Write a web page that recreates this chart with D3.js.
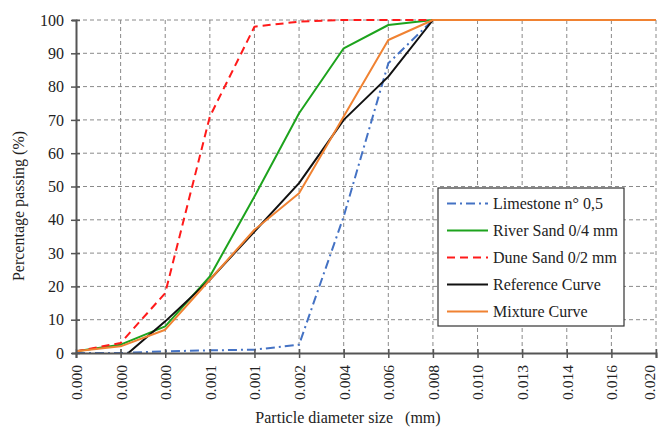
<!DOCTYPE html>
<html>
<head>
<meta charset="utf-8">
<script src="https://cdn.jsdelivr.net/npm/d3@7"></script>
<style>
  html, body { margin: 0; padding: 0; background: #fff; }
  svg { display: block; }
  text { font-family: "Liberation Serif", "Times New Roman", serif; fill: #222; }
</style>
</head>
<body>
<svg id="chart" width="659" height="428"></svg>
<script>
// Sieve sizes (mm) as shown on the x axis
const sizeLabels = ["0.000", "0.000", "0.000", "0.001", "0.001", "0.002", "0.004",
                    "0.006", "0.008", "0.010", "0.013", "0.014", "0.016", "0.020"];
const yTicks = [0, 10, 20, 30, 40, 50, 60, 70, 80, 90, 100];

// Percentage passing for each material
const limestone = [0, 0, 0.5, 0.8, 1, 2.5, 41, 87, 100, 100, 100, 100, 100, 100];
const riverSand = [0.5, 2.5, 8, 23, 47, 72, 91.5, 98.5, 100, 100, 100, 100, 100, 100];
const duneSand  = [0.5, 3, 18, 71, 98, 99.5, 100, 100, 100, 100, 100, 100, 100, 100];
const reference = [null, -2, 9.5, 22, 36.5, 51, 70, 83, 100, 100, 100, 100, 100, 100];
const mixture   = [0.5, 2, 7, 22, 37, 48, 71, 94, 100, 100, 100, 100, 100, 100];

const seriesNames = ["Limestone n° 0,5", "River Sand 0/4 mm", "Dune Sand 0/2 mm",
                     "Reference Curve", "Mixture Curve"];

const series = [
  { name: seriesNames[0], values: limestone, color: "#4472C4", dash: "9,4,2,4" },
  { name: seriesNames[1], values: riverSand, color: "#1DA31D", dash: null },
  { name: seriesNames[2], values: duneSand,  color: "#FF1A1A", dash: "8,5" },
  { name: seriesNames[3], values: reference, color: "#111111", dash: null },
  { name: seriesNames[4], values: mixture,   color: "#F08232", dash: null }
];

const svg = d3.select("#chart");
const margin = { left: 76, right: 3, top: 20, bottom: 75 };
const W = 659, H = 428;
const innerW = W - margin.left - margin.right;
const innerH = H - margin.top - margin.bottom;

const x = d3.scalePoint()
  .domain(d3.range(sizeLabels.length))
  .range([0, innerW]);
const y = d3.scaleLinear().domain([0, 100]).range([innerH, 0]);

const g = svg.append("g").attr("transform", `translate(${margin.left},${margin.top})`);

svg.append("defs").append("clipPath").attr("id", "plotClip")
  .append("rect").attr("x", 0).attr("y", -3).attr("width", innerW + 3).attr("height", innerH + 3);

// Dashed grid
const grid = g.append("g").attr("class", "grid");
grid.selectAll("line.h").data(yTicks.filter(d => d > 0)).join("line")
  .attr("x1", 0).attr("x2", innerW)
  .attr("y1", d => y(d)).attr("y2", d => y(d))
  .attr("stroke", "#8a8a8a").attr("stroke-width", 1).attr("stroke-dasharray", "4,3");
grid.selectAll("line.v").data(d3.range(1, sizeLabels.length)).join("line")
  .attr("x1", d => x(d)).attr("x2", d => x(d))
  .attr("y1", 0).attr("y2", innerH)
  .attr("stroke", "#8a8a8a").attr("stroke-width", 1).attr("stroke-dasharray", "4,3");

// Curves
const line = d3.line()
  .defined(d => d != null)
  .x((d, i) => x(i))
  .y(d => y(d));

const curves = g.append("g").attr("clip-path", "url(#plotClip)");
series.forEach(s => {
  curves.append("path")
    .datum(s.values)
    .attr("d", line)
    .attr("fill", "none")
    .attr("stroke", s.color)
    .attr("stroke-width", 2)
    .attr("stroke-linejoin", "round")
    .attr("stroke-dasharray", s.dash);
});

// Axes
const yAxis = g.append("g")
  .call(d3.axisLeft(y).tickValues(yTicks).tickSize(4).tickPadding(8));
yAxis.select(".domain").attr("stroke", "#555").attr("stroke-width", 2);
yAxis.selectAll(".tick line").attr("stroke", "#555").attr("stroke-width", 1.5)
  .attr("x2", -5).attr("x1", 4);
yAxis.selectAll(".tick text").attr("font-size", 16)
  .attr("font-family", "Liberation Serif, Times New Roman, serif").attr("fill", "#222");

const xAxis = g.append("g").attr("transform", `translate(0,${innerH})`)
  .call(d3.axisBottom(x).tickFormat(i => sizeLabels[i]).tickSize(5).tickPadding(0));
xAxis.select(".domain").attr("stroke", "#555").attr("stroke-width", 2);
xAxis.selectAll(".tick line").attr("stroke", "#555").attr("stroke-width", 1.5)
  .attr("y1", -4).attr("y2", 5);
const lastIndex = sizeLabels.length - 1;
xAxis.selectAll(".tick text")
  .attr("font-size", 15.5)
  .attr("font-family", "Liberation Serif, Times New Roman, serif")
  .attr("fill", "#222")
  .attr("text-anchor", "end")
  .attr("dy", "0.35em")
  // the right-most label is nudged inward so it stays inside the frame
  .attr("transform", i => `translate(${i === lastIndex ? -7 : 0},12) rotate(-90)`)
  .attr("x", 0).attr("y", 0);

// Axis titles
svg.append("text")
  .attr("x", 348).attr("y", 423)
  .attr("text-anchor", "middle")
  .attr("font-size", 16)
  .attr("xml:space", "preserve")
  .style("white-space", "pre")
  .text("Particle diameter size   (mm)");

svg.append("text")
  .attr("transform", "translate(24,206) rotate(-90)")
  .attr("text-anchor", "middle")
  .attr("font-size", 16)
  .text("Percentage passing (%)");

// Legend
const legend = svg.append("g").attr("transform", "translate(438,188)");
legend.append("rect")
  .attr("width", 186).attr("height", 138)
  .attr("fill", "#fff").attr("stroke", "#333").attr("stroke-width", 1.2);
const item = legend.selectAll("g.item").data(series).join("g")
  .attr("transform", (d, i) => `translate(0,${15.5 + i * 27})`);
item.append("line")
  .attr("x1", 9).attr("x2", 50)
  .attr("stroke", d => d.color).attr("stroke-width", 2)
  .attr("stroke-dasharray", d => d.dash);
item.append("text")
  .attr("x", 55).attr("dy", "0.35em")
  .attr("font-size", 16)
  .text(d => d.name);
</script>
</body>
</html>
